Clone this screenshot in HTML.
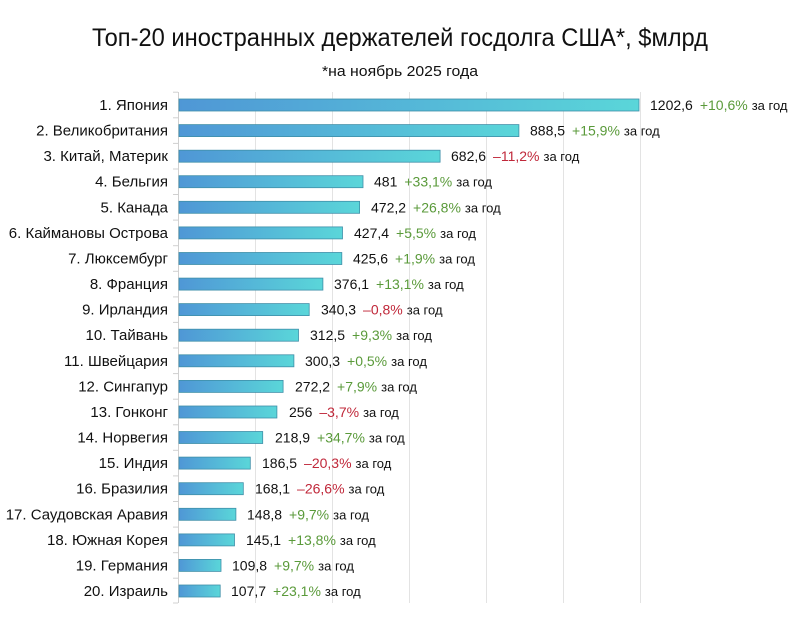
<!DOCTYPE html>
<html><head><meta charset="utf-8"><style>body{margin:0;background:#fff}svg{display:block}text{font-family:"Liberation Sans",sans-serif}</style></head>
<body>
<svg width="800" height="625" xmlns="http://www.w3.org/2000/svg">
<defs><linearGradient id="g" x1="0" x2="1" y1="0" y2="0"><stop offset="0" stop-color="#4f97d6"/><stop offset="1" stop-color="#5ad6d9"/></linearGradient></defs>
<rect width="800" height="625" fill="#fff"/>
<text x="400" y="46" text-anchor="middle" font-size="25" fill="#111" textLength="616" lengthAdjust="spacingAndGlyphs">Топ-20 иностранных держателей госдолга США*, $млрд</text>
<text x="400" y="76" text-anchor="middle" font-size="15" fill="#111" textLength="156" lengthAdjust="spacingAndGlyphs">*на ноябрь 2025 года</text>
<g stroke="#e3e3e3" stroke-width="1">
<line x1="255.5" y1="92" x2="255.5" y2="603"/><line x1="332.5" y1="92" x2="332.5" y2="603"/><line x1="409.5" y1="92" x2="409.5" y2="603"/><line x1="486.5" y1="92" x2="486.5" y2="603"/><line x1="563.5" y1="92" x2="563.5" y2="603"/><line x1="640.5" y1="92" x2="640.5" y2="603"/>
<line x1="178.5" y1="92" x2="178.5" y2="603" stroke="#d0d0d0"/>
</g>
<g font-size="15" fill="#111" text-anchor="end">
<text x="168" y="110">1. Япония</text>
<text x="168" y="135.6">2. Великобритания</text>
<text x="168" y="161.2">3. Китай, Материк</text>
<text x="168" y="186.7">4. Бельгия</text>
<text x="168" y="212.3">5. Канада</text>
<text x="168" y="237.9">6. Каймановы Острова</text>
<text x="168" y="263.5">7. Люксембург</text>
<text x="168" y="289.1">8. Франция</text>
<text x="168" y="314.6">9. Ирландия</text>
<text x="168" y="340.2">10. Тайвань</text>
<text x="168" y="365.8">11. Швейцария</text>
<text x="168" y="391.4">12. Сингапур</text>
<text x="168" y="417">13. Гонконг</text>
<text x="168" y="442.5">14. Норвегия</text>
<text x="168" y="468.1">15. Индия</text>
<text x="168" y="493.7">16. Бразилия</text>
<text x="168" y="519.3">17. Саудовская Аравия</text>
<text x="168" y="544.9">18. Южная Корея</text>
<text x="168" y="570.4">19. Германия</text>
<text x="168" y="596">20. Израиль</text>
</g>
<g fill="url(#g)" stroke="#3f8fa8" stroke-width="0.8">
<rect x="179" y="99" width="460" height="12"/>
<rect x="179" y="124.6" width="339.9" height="12"/>
<rect x="179" y="150.2" width="261.1" height="12"/>
<rect x="179" y="175.7" width="184" height="12"/>
<rect x="179" y="201.3" width="180.6" height="12"/>
<rect x="179" y="226.9" width="163.5" height="12"/>
<rect x="179" y="252.5" width="162.8" height="12"/>
<rect x="179" y="278.1" width="143.9" height="12"/>
<rect x="179" y="303.6" width="130.2" height="12"/>
<rect x="179" y="329.2" width="119.5" height="12"/>
<rect x="179" y="354.8" width="114.9" height="12"/>
<rect x="179" y="380.4" width="104.1" height="12"/>
<rect x="179" y="406" width="97.9" height="12"/>
<rect x="179" y="431.5" width="83.7" height="12"/>
<rect x="179" y="457.1" width="71.3" height="12"/>
<rect x="179" y="482.7" width="64.3" height="12"/>
<rect x="179" y="508.3" width="56.9" height="12"/>
<rect x="179" y="533.9" width="55.5" height="12"/>
<rect x="179" y="559.4" width="42" height="12"/>
<rect x="179" y="585" width="41.2" height="12"/>
</g>
<g font-size="14" fill="#111">
<text x="650" y="110">1202,6<tspan dx="7" fill="#5a9a3a">+10,6%</tspan><tspan dx="4" font-size="13">за год</tspan></text>
<text x="530" y="135.6">888,5<tspan dx="7" fill="#5a9a3a">+15,9%</tspan><tspan dx="4" font-size="13">за год</tspan></text>
<text x="451" y="161.2">682,6<tspan dx="7" fill="#c0283a">–11,2%</tspan><tspan dx="4" font-size="13">за год</tspan></text>
<text x="374" y="186.7">481<tspan dx="7" fill="#5a9a3a">+33,1%</tspan><tspan dx="4" font-size="13">за год</tspan></text>
<text x="371" y="212.3">472,2<tspan dx="7" fill="#5a9a3a">+26,8%</tspan><tspan dx="4" font-size="13">за год</tspan></text>
<text x="354" y="237.9">427,4<tspan dx="7" fill="#5a9a3a">+5,5%</tspan><tspan dx="4" font-size="13">за год</tspan></text>
<text x="353" y="263.5">425,6<tspan dx="7" fill="#5a9a3a">+1,9%</tspan><tspan dx="4" font-size="13">за год</tspan></text>
<text x="334" y="289.1">376,1<tspan dx="7" fill="#5a9a3a">+13,1%</tspan><tspan dx="4" font-size="13">за год</tspan></text>
<text x="321" y="314.6">340,3<tspan dx="7" fill="#c0283a">–0,8%</tspan><tspan dx="4" font-size="13">за год</tspan></text>
<text x="310" y="340.2">312,5<tspan dx="7" fill="#5a9a3a">+9,3%</tspan><tspan dx="4" font-size="13">за год</tspan></text>
<text x="305" y="365.8">300,3<tspan dx="7" fill="#5a9a3a">+0,5%</tspan><tspan dx="4" font-size="13">за год</tspan></text>
<text x="295" y="391.4">272,2<tspan dx="7" fill="#5a9a3a">+7,9%</tspan><tspan dx="4" font-size="13">за год</tspan></text>
<text x="289" y="417">256<tspan dx="7" fill="#c0283a">–3,7%</tspan><tspan dx="4" font-size="13">за год</tspan></text>
<text x="275" y="442.5">218,9<tspan dx="7" fill="#5a9a3a">+34,7%</tspan><tspan dx="4" font-size="13">за год</tspan></text>
<text x="262" y="468.1">186,5<tspan dx="7" fill="#c0283a">–20,3%</tspan><tspan dx="4" font-size="13">за год</tspan></text>
<text x="255" y="493.7">168,1<tspan dx="7" fill="#c0283a">–26,6%</tspan><tspan dx="4" font-size="13">за год</tspan></text>
<text x="247" y="519.3">148,8<tspan dx="7" fill="#5a9a3a">+9,7%</tspan><tspan dx="4" font-size="13">за год</tspan></text>
<text x="246" y="544.9">145,1<tspan dx="7" fill="#5a9a3a">+13,8%</tspan><tspan dx="4" font-size="13">за год</tspan></text>
<text x="232" y="570.4">109,8<tspan dx="7" fill="#5a9a3a">+9,7%</tspan><tspan dx="4" font-size="13">за год</tspan></text>
<text x="231" y="596">107,7<tspan dx="7" fill="#5a9a3a">+23,1%</tspan><tspan dx="4" font-size="13">за год</tspan></text>
</g>
<g stroke="#d0d0d0">
<line x1="173" x2="178" y1="92.2" y2="92.2"/><line x1="173" x2="178" y1="117.8" y2="117.8"/><line x1="173" x2="178" y1="143.4" y2="143.4"/><line x1="173" x2="178" y1="169" y2="169"/><line x1="173" x2="178" y1="194.5" y2="194.5"/><line x1="173" x2="178" y1="220.1" y2="220.1"/><line x1="173" x2="178" y1="245.7" y2="245.7"/><line x1="173" x2="178" y1="271.3" y2="271.3"/><line x1="173" x2="178" y1="296.9" y2="296.9"/><line x1="173" x2="178" y1="322.4" y2="322.4"/><line x1="173" x2="178" y1="348" y2="348"/><line x1="173" x2="178" y1="373.6" y2="373.6"/><line x1="173" x2="178" y1="399.2" y2="399.2"/><line x1="173" x2="178" y1="424.8" y2="424.8"/><line x1="173" x2="178" y1="450.3" y2="450.3"/><line x1="173" x2="178" y1="475.9" y2="475.9"/><line x1="173" x2="178" y1="501.5" y2="501.5"/><line x1="173" x2="178" y1="527.1" y2="527.1"/><line x1="173" x2="178" y1="552.7" y2="552.7"/><line x1="173" x2="178" y1="578.2" y2="578.2"/><line x1="173" x2="178" y1="603" y2="603"/>
</g>
</svg>
</body></html>
